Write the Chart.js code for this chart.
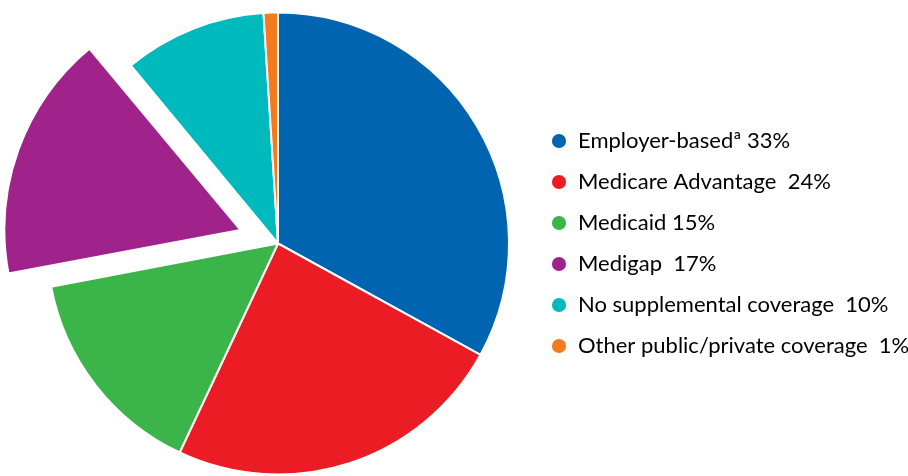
<!DOCTYPE html>
<html>
<head>
<meta charset="utf-8">
<script src="https://cdn.jsdelivr.net/npm/chart.js@4"></script>
<style>
  html, body { margin: 0; padding: 0; background: #fff; overflow: hidden; }
  #wrap { position: relative; width: 908px; height: 476px; }
</style>
</head>
<body>
<div id="wrap"><canvas id="chart"></canvas></div>
<script>
const categories = ["Employer-based\u00aa", "Medicare Advantage", "Medicaid", "Medigap", "No supplemental coverage", "Other public/private coverage"];
const shares = [33, 24, 15, 17, 10, 1];
const shareLabels = [" 33%", "  24%", " 15%", "  17%", "  10%", "  1%"];
const colors = ["#0064b0", "#ec1c24", "#3bb54a", "#a0238c", "#00b9bd", "#f47a20"];
const explode = [0, 0, 0, 160, 0, 0];

const canvas = document.getElementById("chart");

new Chart(canvas, {
  type: "pie",
  data: {
    labels: categories,
    datasets: [{
      data: shares,
      backgroundColor: colors,
      borderColor: "#ffffff",
      borderWidth: 2,
      offset: explode,
      hoverOffset: 0
    }]
  },
  options: {
    responsive: true,
    maintainAspectRatio: false,
    animation: false,
    events: [],
    radius: 231,
    layout: { padding: { left: 24, top: 11, right: 0, bottom: 0 } },
    plugins: {
      tooltip: { enabled: false },
      legend: {
        position: "right",
        maxWidth: 376,
        labels: {
          usePointStyle: true,
          boxWidth: 16,
          boxHeight: 10,
          padding: 19,
          color: "#2b2b2b",
          font: { family: "Lato", size: 22 },
          generateLabels: () => categories.map((c, i) => ({
            text: c + shareLabels[i],
            fillStyle: colors[i],
            strokeStyle: colors[i],
            lineWidth: 0,
            pointStyle: "circle",
            hidden: false,
            index: i
          }))
        }
      }
    }
  }
});
</script>
</body>
</html>
